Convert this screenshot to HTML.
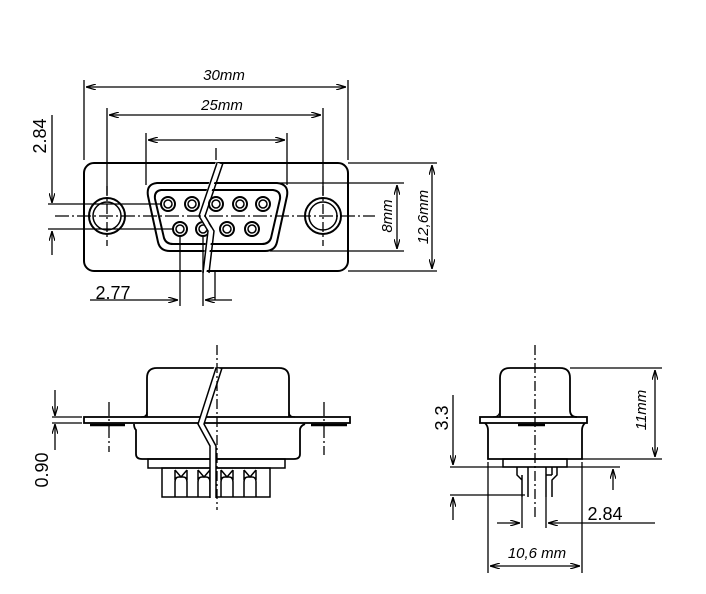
<!DOCTYPE html>
<html><head><style>body{margin:0;background:#fff}svg{display:block}</style></head><body>
<svg width="706" height="594" viewBox="0 0 706 594" xmlns="http://www.w3.org/2000/svg" font-family="Liberation Sans, sans-serif">
<defs>
<marker id="a" markerWidth="10" markerHeight="6" refX="10" refY="3" orient="auto-start-reverse" markerUnits="userSpaceOnUse"><path d="M0,0 L10,3 L0,6" fill="none" stroke="#000" stroke-width="1.2"/></marker>
</defs>
<g stroke="#000" fill="none" stroke-width="1.3">
<!-- TOP VIEW -->
<rect x="84" y="163" width="264" height="108" rx="10" stroke-width="2"/>
<circle cx="107" cy="216" r="18" stroke-width="2"/><circle cx="107" cy="216" r="14" stroke-width="1.5"/>
<circle cx="323" cy="216" r="18" stroke-width="2"/><circle cx="323" cy="216" r="14" stroke-width="1.5"/>
<path d="M157,183 L277,183 Q289,184 287,196 L277,242 Q275,251 265,251 L170,251 Q160,251 158,242 L148,196 Q146,184 157,183 Z" stroke-width="2"/>
<path d="M161,190 L273,190 Q281,191 280,199 L271,238 Q269,244 262,244 L173,244 Q166,244 164,238 L155,199 Q154,191 161,190 Z" stroke-width="2"/>
<g stroke-width="2">
<circle cx="168" cy="204" r="7"/><circle cx="192" cy="204" r="7"/><circle cx="216" cy="204" r="7"/><circle cx="240" cy="204" r="7"/><circle cx="263" cy="204" r="7"/>
<circle cx="180" cy="229" r="7"/><circle cx="203" cy="229" r="7"/><circle cx="227" cy="229" r="7"/><circle cx="252" cy="229" r="7"/>
</g>
<g stroke-width="1.5">
<circle cx="168" cy="204" r="4"/><circle cx="192" cy="204" r="4"/><circle cx="216" cy="204" r="4"/><circle cx="240" cy="204" r="4"/><circle cx="263" cy="204" r="4"/>
<circle cx="180" cy="229" r="4"/><circle cx="203" cy="229" r="4"/><circle cx="227" cy="229" r="4"/><circle cx="252" cy="229" r="4"/>
</g>
<path d="M218,163 L201,216 L210,231 L204,272" stroke="#fff" stroke-width="5"/>
<path d="M217,163 L199,216 L208,231 L203,273 M223,163 L205,216 L214,231 L209,273" stroke-width="1.5"/>
<path d="M55,216 L375,216" stroke-dasharray="14,3,2,3"/>
<path d="M107,186 V246 M323,186 V246" stroke-dasharray="10,3,2,3"/>
<path d="M84,160 V80 M348,160 V80 M107,195 V108 M323,195 V108 M146,185 V133 M287,185 V133 M216,160 V148"/>
<path d="M86,87 H346" marker-start="url(#a)" marker-end="url(#a)"/>
<path d="M109,115 H321" marker-start="url(#a)" marker-end="url(#a)"/>
<path d="M148,140 H285" marker-start="url(#a)" marker-end="url(#a)"/>
<path d="M48,204 H162 M48,229 H174"/>
<path d="M52,115 V203" marker-end="url(#a)"/>
<path d="M52,255 V231" marker-end="url(#a)"/>
<path d="M270,183 H404 M270,251 H404 M348,163 H437 M348,271 H437"/>
<path d="M397,185 V249" marker-start="url(#a)" marker-end="url(#a)"/>
<path d="M432,165 V269" marker-start="url(#a)" marker-end="url(#a)"/>
<path d="M180,236 V306 M203,236 V306 M215,272 V300"/>
<path d="M90,300 H178" marker-end="url(#a)"/>
<path d="M232,300 H205" marker-end="url(#a)"/>

<!-- FRONT VIEW -->
<path d="M147,417 V378 Q147,368 157,368 L279,368 Q289,368 289,378 V417" stroke-width="1.8"/>
<path d="M147,412 Q147,417 141,417 M289,412 Q289,417 295,417"/>
<rect x="84" y="417" width="266" height="6" stroke-width="1.8"/>
<path d="M90,425 H125 M311,425 H347" stroke-width="2.5"/>
<path d="M134,424 Q134,428 136,430 V454 Q136,459 142,459 L294,459 Q300,459 300,454 V430 Q300,426 305,424" stroke-width="1.8"/>
<rect x="148" y="459" width="137" height="9" stroke-width="1.5"/>
<rect x="162" y="468" width="108" height="29" stroke-width="1.5"/>
<g stroke-width="1.5">
<path d="M175,497 V482 Q175,477 179,477 L183,477 Q187,477 187,482 V497 M175,470 L181,477 L187,470 M175,470 V480 M187,470 V480"/>
<path d="M198,497 V482 Q198,477 202,477 L206,477 Q210,477 210,482 V497 M198,470 L204,477 L210,470 M198,470 V480 M210,470 V480"/>
<path d="M221,497 V482 Q221,477 225,477 L229,477 Q233,477 233,482 V497 M221,470 L227,477 L233,470 M221,470 V480 M233,470 V480"/>
<path d="M244,497 V482 Q244,477 248,477 L252,477 Q256,477 256,482 V497 M244,470 L250,477 L256,470 M244,470 V480 M256,470 V480"/>
</g>
<path d="M217,368 L201,424 L213,446 L213,498" stroke="#fff" stroke-width="6"/>
<path d="M216,368 L198,424 L210,446 L210,498 M222,368 L204,424 L216,446 L216,498" stroke-width="1.5"/>
<path d="M217,345 V510" stroke-dasharray="10,3,2,3"/>
<path d="M109,402 V452 M324,402 V455" stroke-dasharray="14,3,2,3"/>
<path d="M52,417 H82 M52,423 H82"/>
<path d="M55,390 V416" marker-end="url(#a)"/>
<path d="M55,450 V424" marker-end="url(#a)"/>

<!-- SIDE VIEW -->
<path d="M500,417 V378 Q500,368 510,368 L560,368 Q570,368 570,378 V410 Q570,417 577,417" stroke-width="1.8"/>
<path d="M500,410 Q500,417 493,417"/>
<rect x="480" y="417" width="107" height="6" stroke-width="1.8"/>
<path d="M518,425 H545" stroke-width="2.5"/>
<path d="M485,423 Q488,426 488,430 V459 H582 V430 Q582,426 585,423" stroke-width="1.8"/>
<rect x="503" y="459" width="64" height="8" stroke-width="1.5"/>
<path d="M517,467 V475 L522,480 V497 M528,467 V497 M522,475 V497 M546,467 V497 M552,467 V475 M557,467 V475 L552,480 V497 M546,475 H552" stroke-width="1.5"/>
<path d="M535,345 V520" stroke-dasharray="10,3,2,3"/>
<path d="M570,368 H662 M582,459 H662"/>
<path d="M655,370 V457" marker-start="url(#a)" marker-end="url(#a)"/>
<path d="M450,467 H620 M450,495 H525"/>
<path d="M453,395 V465" marker-end="url(#a)"/>
<path d="M453,520 V497" marker-end="url(#a)"/>
<path d="M613,490 V469" marker-end="url(#a)"/>
<path d="M522,497 V528 M546,497 V528"/>
<path d="M497,523 H520" marker-end="url(#a)"/>
<path d="M655,523 H548" marker-end="url(#a)"/>
<path d="M488,462 V573 M582,462 V573"/>
<path d="M490,566 H580" marker-start="url(#a)" marker-end="url(#a)"/>
</g>
<g fill="#000">
<text x="224" y="80" font-size="15" font-style="italic" text-anchor="middle">30mm</text>
<text x="222" y="110" font-size="15" font-style="italic" text-anchor="middle">25mm</text>
<text x="113" y="299" font-size="18" text-anchor="middle">2.77</text>
<text transform="translate(46,136) rotate(-90)" font-size="18" text-anchor="middle">2.84</text>
<text transform="translate(392,216) rotate(-90)" font-size="15" font-style="italic" text-anchor="middle">8mm</text>
<text transform="translate(428,217) rotate(-90)" font-size="15" font-style="italic" text-anchor="middle">12,6mm</text>
<text transform="translate(48,470) rotate(-90)" font-size="18" text-anchor="middle">0.90</text>
<text transform="translate(448,418) rotate(-90)" font-size="18" text-anchor="middle">3.3</text>
<text transform="translate(646,410) rotate(-90)" font-size="15" font-style="italic" text-anchor="middle">11mm</text>
<text x="605" y="520" font-size="18" text-anchor="middle">2.84</text>
<text x="537" y="558" font-size="15" font-style="italic" text-anchor="middle">10,6 mm</text>
</g>
</svg>
</body></html>
